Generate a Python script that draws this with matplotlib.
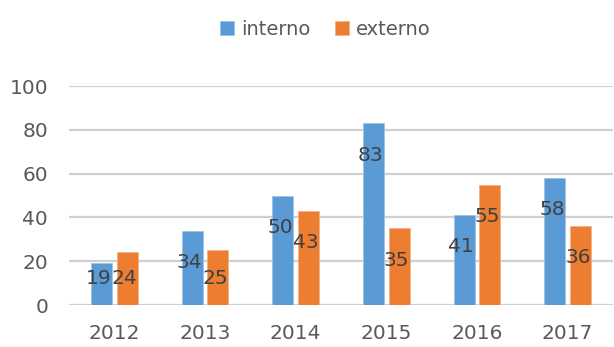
import numpy as np
import matplotlib.pyplot as plt

plt.rcParams['font.family'] = ['DejaVu Sans']

anos = ['2012', '2013', '2014', '2015', '2016', '2017']
interno = [19, 34, 50, 83, 41, 58]
externo = [24, 25, 43, 35, 55, 36]

cor_int = '#5B9BD5'
cor_ext = '#ED7D31'
cinza = '#595959'

fig = plt.figure(figsize=(6.14, 3.47), dpi=100)
ax = fig.add_axes([0.1124, 0.121, 0.886, 0.631])

x = np.arange(len(anos))
w = 0.232
d = 0.143
b1 = ax.bar(x - d, interno, w, color=cor_int, edgecolor='#9DC3E6', linewidth=0.6, label='interno', zorder=3)
b2 = ax.bar(x + d, externo, w, color=cor_ext, edgecolor='#F4B183', linewidth=0.6, label='externo', zorder=3)

# rótulos dentro da barra, perto do topo
for xs, vals in ((x - d, interno), (x + d, externo)):
    for xi, v in zip(xs, vals):
        ax.text(xi - 0.03, max(v - 14.5, 12), str(v), ha='center', va='center',
                fontsize=14.5, color='#404040', zorder=4)

ax.set_xlim(-0.5, len(anos) - 0.5)
ax.set_ylim(0, 100)
ax.set_yticks(range(0, 101, 20))
ax.set_xticks(x)
ax.set_xticklabels(anos)
ax.tick_params(axis='both', length=0, labelsize=14.5, labelcolor=cinza)
ax.tick_params(axis='x', pad=14)
ax.tick_params(axis='y', pad=15)
ax.grid(axis='y', color='#D0D0D0', linewidth=1.6, zorder=0)
ax.set_axisbelow(True)
for s in ax.spines.values():
    s.set_visible(False)

fig.legend(handles=[b1, b2], labels=['interno', 'externo'], loc='center',
           bbox_to_anchor=(0.53, 0.916), ncol=2, frameon=False, fontsize=14,
           labelcolor=cinza, handlelength=0.7, handleheight=0.7,
           handletextpad=0.35, columnspacing=1.3)

fig.savefig('out.png', dpi=100)
